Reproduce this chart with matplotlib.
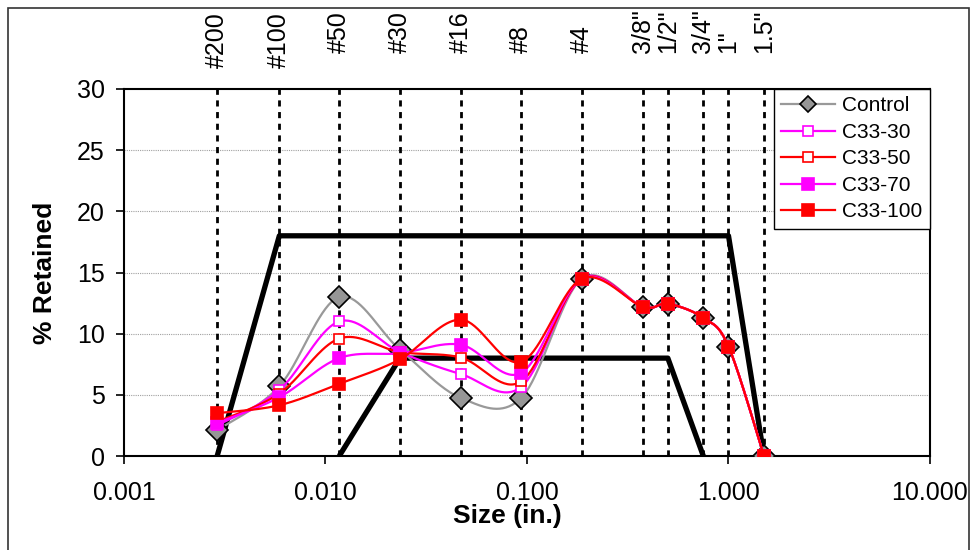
import numpy as np
import matplotlib
matplotlib.use("Agg")
import matplotlib.pyplot as plt
from matplotlib.patches import Rectangle
from matplotlib.transforms import blended_transform_factory

plt.rcParams['font.family'] = ['Liberation Sans', 'DejaVu Sans']

# ---- data ----
sieve_sizes = [0.0029, 0.0059, 0.0117, 0.0234, 0.0469, 0.0937, 0.187, 0.375, 0.5, 0.75, 1.0, 1.5]
sieve_labels = ['#200', '#100', '#50', '#30', '#16', '#8', '#4', '3/8"', '1/2"', '3/4"', '1"', '1.5"']

control = [2.1, 5.7, 13.0, 8.7, 4.75, 4.75, 14.5, 12.2, 12.45, 11.3, 8.95, 0.0]
c33_30 = [2.5, 5.4, 11.0, 8.5, 6.7, 5.65, 14.5, 12.2, 12.45, 11.3, 8.95, 0.0]
c33_50 = [2.8, 5.1, 9.6, 8.5, 8.05, 6.1, 14.5, 12.2, 12.45, 11.3, 8.95, 0.0]
c33_70 = [2.7, 4.8, 8.0, 8.4, 9.1, 6.8, 14.5, 12.2, 12.45, 11.3, 8.95, 0.0]
c33_100 = [3.5, 4.15, 5.9, 7.9, 11.15, 7.7, 14.5, 12.2, 12.45, 11.3, 8.95, 0.0]

upper_x = [0.0029, 0.0059, 1.0, 1.5]
upper_y = [0, 18, 18, 0]
lower_x = [0.0117, 0.0234, 0.5, 0.75]
lower_y = [0, 8, 8, 0]

x_ticks = [0.001, 0.01, 0.1, 1.0, 10.0]
x_ticklabels = ['0.001', '0.010', '0.100', '1.000', '10.000']
y_ticks = [0, 5, 10, 15, 20, 25, 30]

# ---- figure ----
W, H = 976, 550
fig = plt.figure(figsize=(W / 100, H / 100), dpi=100)
L, R, T, B = 124, 930, 89, 456
ax = fig.add_axes([L / W, 1 - B / H, (R - L) / W, (B - T) / H])
ax.set_xscale('log')
ax.set_xlim(0.001, 10)
ax.set_ylim(0, 30)
fig.canvas.draw()

def smooth(xs, ys, n=40):
    pts = ax.transData.transform(np.column_stack([xs, ys]))
    out = []
    m = len(pts)
    t = np.linspace(0, 1, n)[:, None]
    for i in range(m - 1):
        p0 = pts[i - 1] if i > 0 else pts[i]
        p1 = pts[i]
        p2 = pts[i + 1]
        p3 = pts[i + 2] if i + 2 < m else pts[i + 1]
        c1 = p1 + (p2 - p0) / 6.0
        c2 = p2 - (p3 - p1) / 6.0
        seg = ((1 - t) ** 3) * p1 + 3 * ((1 - t) ** 2) * t * c1 + 3 * (1 - t) * t ** 2 * c2 + t ** 3 * p2
        out.append(seg if i == 0 else seg[1:])
    out = np.vstack(out)
    d = ax.transData.inverted().transform(out)
    return d[:, 0], d[:, 1]

# gridlines
for yv in y_ticks[1:-1]:
    ax.axhline(yv, color='#a0a0a0', lw=0.8, ls=(0, (1, 1)), zorder=1)

# vertical sieve lines
for xv in sieve_sizes:
    ax.axvline(xv, color='black', lw=2.0, ls=(0, (2.2, 2.0)), zorder=2)

# spec lines
ax.plot(upper_x, upper_y, color='black', lw=3.8, zorder=3, solid_capstyle='butt')
ax.plot(lower_x, lower_y, color='black', lw=3.8, zorder=3, solid_capstyle='butt')

series = [
    ('Control', control, '#999999', 'D', '#969696', 'black', 11.5),
    ('C33-30', c33_30, '#ff00ff', 's', 'white', '#ff00ff', 7.5),
    ('C33-50', c33_50, '#ff0000', 's', 'white', '#ff0000', 7.5),
    ('C33-70', c33_70, '#ff00ff', 's', '#ff00ff', '#ff00ff', 8.0),
    ('C33-100', c33_100, '#ff0000', 's', '#ff0000', '#ff0000', 8.0),
]
handles = []
for k, (name, ys, col, mk, mfc, mec, ms) in enumerate(series):
    sx, sy = smooth(sieve_sizes, ys)
    ax.plot(sx, sy, color=col, lw=1.6, zorder=4 + k)
    ax.plot(sieve_sizes, ys, ls='none', marker=mk, markersize=ms, markerfacecolor=mfc,
            markeredgecolor=mec, markeredgewidth=1.2, zorder=4.5 + k)
    h, = ax.plot([], [], color=col, lw=1.6, marker=mk, markersize=ms * (0.75 if mk == 'D' else 1.0),
                 markerfacecolor=mfc, markeredgecolor=mec, markeredgewidth=1.2, label=name)
    handles.append(h)

leg = ax.legend(handles=handles, loc='upper right', bbox_to_anchor=(1, 1), borderaxespad=0,
                fontsize=15, frameon=True, fancybox=False, framealpha=1, edgecolor='black',
                handlelength=2.6, handletextpad=0.35, labelspacing=0.36, borderpad=0.35)
leg.get_frame().set_linewidth(1.0)
leg.set_zorder(20)

# top sieve labels
trans = blended_transform_factory(ax.transData, ax.transAxes)
low_labels = {'#200', '#100'}
for xv, lab in zip(sieve_sizes, sieve_labels):
    ybot = 68 if lab in low_labels else 53
    ax.text(xv, 1 + (T - ybot) / (B - T), lab, transform=trans, rotation=90,
            ha='center', va='bottom', fontsize=18, clip_on=False)

# axes styling
ax.set_xticks(x_ticks)
ax.set_xticklabels(x_ticklabels)
ax.xaxis.set_minor_locator(matplotlib.ticker.NullLocator())
ax.set_yticks(y_ticks)
ax.tick_params(axis='both', labelsize=18, direction='out', length=6, width=1.2, colors='black')
ax.tick_params(axis='x', pad=12)
ax.tick_params(axis='y', pad=8)
for s in ax.spines.values():
    s.set_linewidth(1.5)
    s.set_color('black')

fig.text(507 / W, 1 - 523 / H, 'Size (in.)', ha='center', va='baseline', fontsize=19, fontweight='bold')
fig.text(45 / W, 1 - 273 / H, '% Retained', ha='center', va='center', rotation=90, fontsize=19,
         fontweight='bold')

# chart border
fig.patches.append(Rectangle((8 / W, -0.05), (969 - 8) / W, 1.05 - 8 / H, transform=fig.transFigure,
                             fill=False, edgecolor='#333333', lw=1.2))

fig.savefig('out.png', dpi=100)
